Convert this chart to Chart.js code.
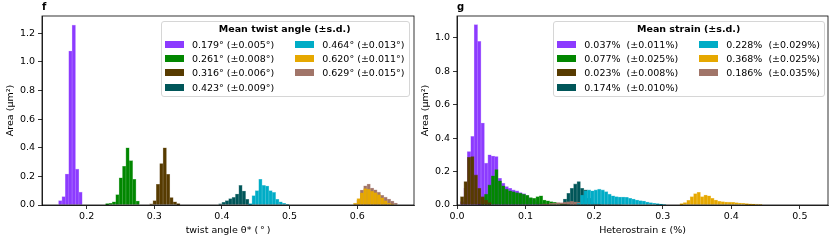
<!DOCTYPE html>
<html>
<head>
  <meta charset="UTF-8">
  <title>Twist angle and heterostrain histograms</title>
  <script src="https://cdn.jsdelivr.net/npm/chart.js@4"></script>
  <style>
    body { margin: 0; background: #fff; }
    .panel { position: absolute; top: 0; height: 242px; }
    #panelF { left: 0; width: 420px; }
    #panelG { left: 415px; width: 415px; }
    .legend {
      position: absolute; top: 21px;
      border: 1px solid #d6d6d6; border-radius: 3px;
      background: rgba(255, 255, 255, 0.8);
      padding: 1px 4px 2px 3px;
      font-family: 'DejaVu Sans', sans-serif; font-size: 9.5px; color: #000;
    }
    #legendF { right: 10.5px; }
    #legendG { right: 5px; }
    .legend .title { font-weight: bold; text-align: center; line-height: 11px; margin-bottom: 3px; }
    .legend .items { display: grid; grid-template-rows: repeat(4, 14.3px); grid-auto-flow: column; column-gap: 21px; }
    .legend .item { display: flex; align-items: center; white-space: pre; }
    .legend .patch { width: 19px; height: 7px; margin-right: 8px; }
  </style>
</head>
<body>
  <div class="panel" id="panelF">
    <canvas id="twistChart"></canvas>
    <div class="legend" id="legendF"><div class="title">Mean twist angle (±s.d.)</div><div class="items"></div></div>
  </div>
  <div class="panel" id="panelG">
    <canvas id="strainChart"></canvas>
    <div class="legend" id="legendG"><div class="title">Mean strain (±s.d.)</div><div class="items"></div></div>
  </div>

  <script>
    // colours shared by both panels
    const seriesColors = ['#8c3bff', '#018700', '#573b00', '#005659', '#00acc6', '#e6a800', '#a17569'];

    // panel f: twist angle histograms (area in um^2 per bin)
    const twistLabels = ['0.179° (±0.005°)', '0.261° (±0.008°)', '0.316° (±0.006°)', '0.423° (±0.009°)',
                         '0.464° (±0.013°)', '0.620° (±0.011°)', '0.629° (±0.015°)'];
    const twistBinStart = [0.1585, 0.228, 0.293, 0.395, 0.4394, 0.5945, 0.5945];
    const twistBinWidth = 0.005;
    const twistPurple = [0.03, 0.058, 0.216, 1.075, 1.256, 0.25, 0.09];
    const twistGreen = [0.01, 0.012, 0.023, 0.072, 0.19, 0.27, 0.40, 0.31, 0.18, 0.028];
    const twistBrown = [0.008, 0.03, 0.145, 0.29, 0.40, 0.215, 0.052, 0.022, 0.01];
    const twistTeal = [0.009, 0.019, 0.03, 0.044, 0.053, 0.077, 0.137, 0.098, 0.04];
    const twistCyan = [0.01, 0.065, 0.10, 0.18, 0.137, 0.133, 0.10, 0.088, 0.04, 0.023, 0.012, 0.005];
    const twistOrange = [0.013, 0.045, 0.085, 0.115, 0.11, 0.097, 0.086, 0.072, 0.05, 0.03, 0.014, 0.006];
    const twistTan = [0.008, 0.035, 0.105, 0.134, 0.146, 0.118, 0.106, 0.09, 0.068, 0.055, 0.042, 0.028, 0.014];
    const twistXRange = [0.134, 0.684];
    const twistXTicks = [0.2, 0.3, 0.4, 0.5, 0.6];
    const twistYMax = 1.32;
    const twistYTicks = [0, 0.2, 0.4, 0.6, 0.8, 1.0, 1.2];

    // panel g: heterostrain histograms
    const strainLabels = ['0.037%  (±0.011%)', '0.077%  (±0.025%)', '0.023%  (±0.008%)', '0.174%  (±0.010%)',
                          '0.228%  (±0.029%)', '0.368%  (±0.025%)', '0.186%  (±0.035%)'];
    const strainBinStart = [0.005, 0.035, 0.005, 0.155, 0.175, 0.325, 0.12];
    const strainBinWidth = 0.005;
    const strainPurple = [0.02, 0.10, 0.32, 0.41, 1.078, 0.978, 0.49, 0.25, 0.30, 0.293, 0.29, 0.16, 0.13, 0.11,
                          0.10, 0.09, 0.085, 0.075, 0.068, 0.055, 0.04, 0.03, 0.02, 0.012, 0.008];
    const strainGreen = [0.045, 0.065, 0.12, 0.175, 0.212, 0.145, 0.115, 0.095, 0.085, 0.08, 0.074, 0.07, 0.064,
                         0.058, 0.045, 0.04, 0.05, 0.055, 0.03, 0.025, 0.02, 0.016, 0.012, 0.008, 0.006, 0.004];
    const strainBrown = [0.05, 0.14, 0.285, 0.29, 0.18, 0.10, 0.05, 0.03, 0.015];
    const strainTeal = [0.036, 0.07, 0.10, 0.126, 0.14, 0.10, 0.09, 0.04, 0.015];
    const strainCyan = [0.01, 0.06, 0.085, 0.09, 0.085, 0.09, 0.095, 0.09, 0.08, 0.065, 0.055, 0.05, 0.048,
                        0.048, 0.046, 0.04, 0.036, 0.03, 0.026, 0.024, 0.018, 0.014, 0.01, 0.008, 0.006, 0.004];
    const strainOrange = [0.008, 0.015, 0.028, 0.05, 0.068, 0.076, 0.05, 0.06, 0.055, 0.04, 0.03, 0.022, 0.02,
                          0.018, 0.017, 0.016, 0.014, 0.012, 0.01, 0.008, 0.007, 0.006, 0.005, 0.003];
    const strainTan = [0.004, 0.007, 0.006, 0.01, 0.012, 0.015, 0.014, 0.018, 0.02, 0.022, 0.019, 0.018, 0.015,
                       0.016, 0.012, 0.01, 0.009, 0.006, 0.005, 0.004, 0.003, 0.002, 0.002, 0.001];
    const strainXRange = [0, 0.541];
    const strainXTicks = [0, 0.1, 0.2, 0.3, 0.4, 0.5];
    const strainYMax = 1.13;
    const strainYTicks = [0, 0.2, 0.4, 0.6, 0.8, 1.0];

    const FONT = 'DejaVu Sans';
    Chart.defaults.color = '#000';
    Chart.defaults.font.family = FONT;
    Chart.defaults.font.size = 9.5;

    // black box round the plot area, like matplotlib spines
    const frame = {
      id: 'frame',
      afterDraw(chart) {
        const { ctx, chartArea: a } = chart;
        ctx.save();
        ctx.strokeStyle = '#000';
        ctx.lineWidth = 0.8;
        ctx.strokeRect(a.left, a.top, a.right - a.left, a.bottom - a.top);
        ctx.restore();
      }
    };

    // legend as html, filled from the chart's own legend items
    const htmlLegend = {
      id: 'htmlLegend',
      afterUpdate(chart, args, opts) {
        const list = document.querySelector('#' + opts.containerID + ' .items');
        list.innerHTML = '';
        const items = chart.options.plugins.legend.labels.generateLabels(chart)
          .sort((a, b) => a.datasetIndex - b.datasetIndex);
        items.forEach(item => {
          const row = document.createElement('div');
          row.className = 'item';
          const patch = document.createElement('span');
          patch.className = 'patch';
          patch.style.background = item.fillStyle;
          const text = document.createElement('span');
          text.textContent = item.text;
          row.append(patch, text);
          list.appendChild(row);
        });
      }
    };

    function histChart(canvasId, legendId, letter, labels, starts, binWidth, series, xRange, xTicks, xTitle, yMax, yTicks, drawOrder, padRight) {
      const scales = {
        x: {
          type: 'linear', min: xRange[0], max: xRange[1], offset: false,
          afterBuildTicks: s => { s.ticks = xTicks.map(v => ({ value: v })); },
          afterFit: s => { s.height = 37; },
          grid: { drawOnChartArea: false, drawTicks: true, tickLength: 4, color: '#000', lineWidth: 0.8, offset: false },
          border: { display: true, color: '#000', width: 0.8 },
          ticks: { padding: 2, maxRotation: 0, callback: v => v.toFixed(1) },
          title: { display: true, text: xTitle, padding: { top: 0, bottom: 6 } }
        },
        y: {
          min: 0, max: yMax,
          afterBuildTicks: s => { s.ticks = yTicks.map(v => ({ value: v })); },
          afterFit: s => { s.width = 42; },
          grid: { drawOnChartArea: false, drawTicks: true, tickLength: 4, color: '#000', lineWidth: 0.8 },
          border: { display: true, color: '#000', width: 0.8 },
          ticks: { padding: 3, callback: v => v.toFixed(1) },
          title: { display: true, text: 'Area (μm²)', padding: { top: 4.5, bottom: 0 } }
        }
      };

      // every histogram gets its own hidden x axis so its bins keep their own width
      const datasets = series.map((vals, i) => {
        const axisId = 'bins' + i;
        scales[axisId] = { type: 'linear', display: false, min: xRange[0], max: xRange[1], offset: false };
        return {
          label: labels[i],
          xAxisID: axisId,
          data: vals.map((v, k) => ({ x: starts[i] + (k + 0.5) * binWidth, y: v })),
          backgroundColor: seriesColors[i],
          borderColor: seriesColors[i] + '99',
          borderWidth: 0.6,
          barPercentage: 1,
          categoryPercentage: 1,
          grouped: false,
          order: drawOrder[i]
        };
      });

      return new Chart(document.getElementById(canvasId), {
        type: 'bar',
        data: { datasets },
        options: {
          responsive: true,
          maintainAspectRatio: false,
          animation: false,
          layout: { padding: { top: 0, right: padRight, bottom: 0, left: 0 } },
          scales,
          plugins: {
            legend: { display: false },
            tooltip: { enabled: false },
            htmlLegend: { containerID: legendId },
            title: {
              display: true, text: letter, align: 'start', fullSize: false,
              font: { size: 10, weight: 'bold' }, padding: { top: 1, bottom: 3 }
            }
          }
        },
        plugins: [frame, htmlLegend]
      });
    }

    // higher order is painted first (further back); the last series sits between teal and cyan
    const drawOrder = [7, 6, 5, 4, 2, 1, 3];

    histChart('twistChart', 'legendF', 'f', twistLabels, twistBinStart, twistBinWidth,
      [twistPurple, twistGreen, twistBrown, twistTeal, twistCyan, twistOrange, twistTan],
      twistXRange, twistXTicks, 'twist angle θ* (\u2009°\u2009)', twistYMax, twistYTicks, drawOrder, 6);

    histChart('strainChart', 'legendG', 'g', strainLabels, strainBinStart, strainBinWidth,
      [strainPurple, strainGreen, strainBrown, strainTeal, strainCyan, strainOrange, strainTan],
      strainXRange, strainXTicks, 'Heterostrain ε (%)', strainYMax, strainYTicks, drawOrder, 2);
  </script>
</body>
</html>
